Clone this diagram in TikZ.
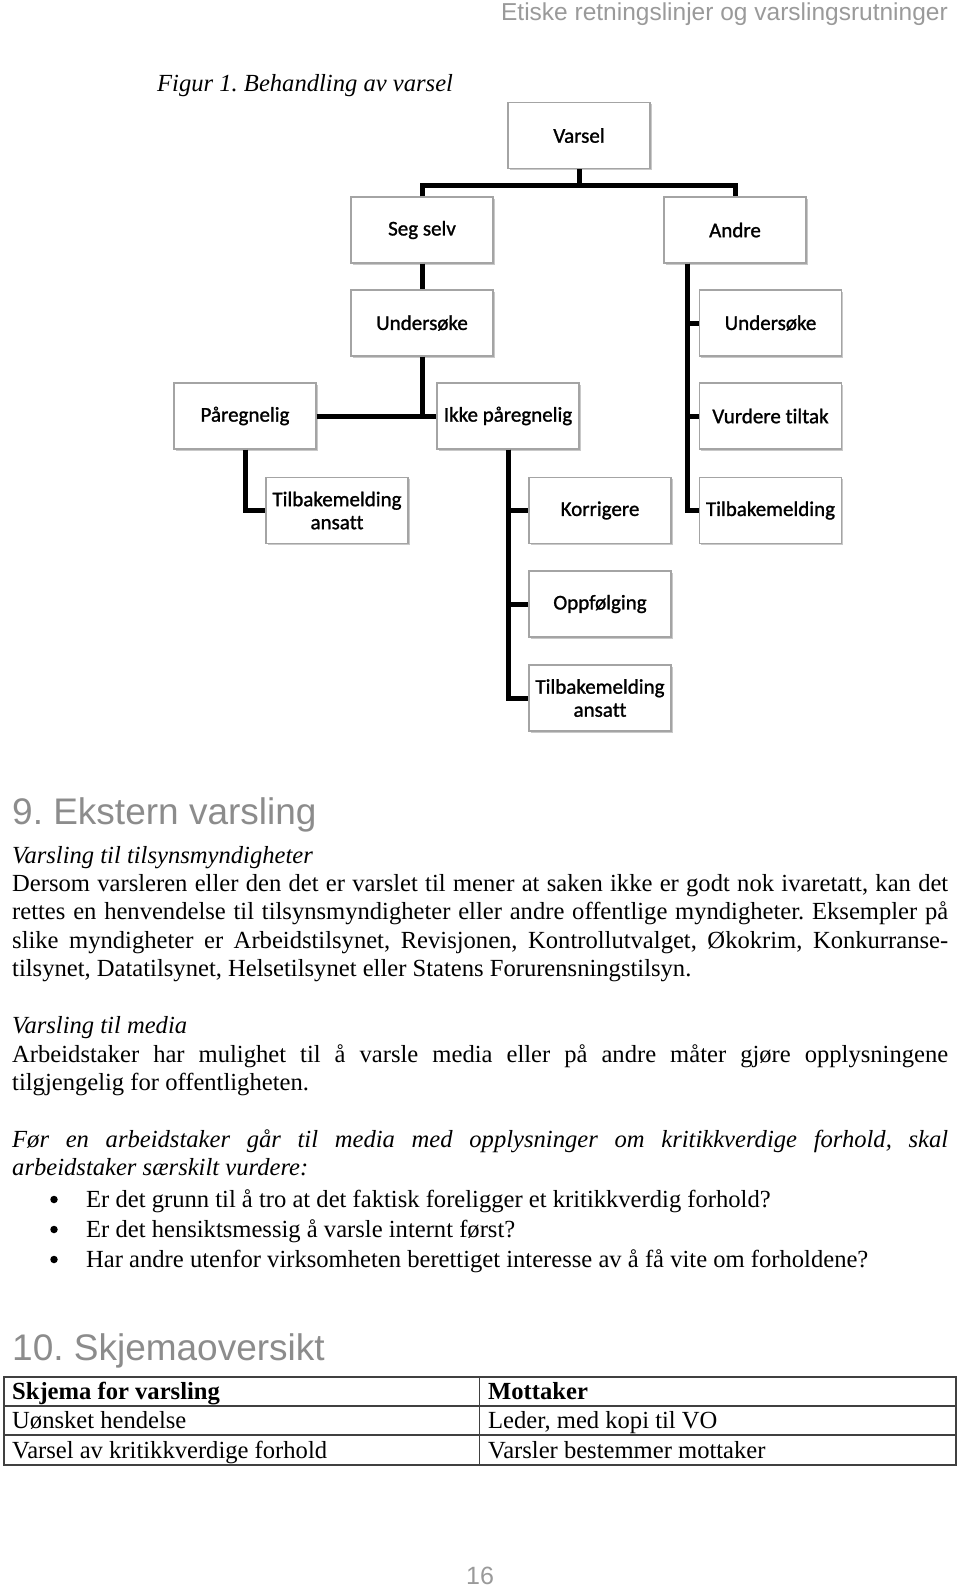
\documentclass[tikz,border=0pt]{standalone}
\usepackage{fontspec}
\setmainfont{Liberation Serif}
\newfontfamily\arialf{Liberation Sans}
\newfontfamily\calib{Carlito}[Ligatures=NoCommon, FakeBold=1.2]
\usetikzlibrary{shadows}
\definecolor{hdgray}{HTML}{9A9A9A}
\definecolor{secgray}{HTML}{8C8C8C}
\definecolor{boxline}{HTML}{A4A4A4}
\definecolor{tabline}{HTML}{404040}
\frenchspacing
\begin{document}
\begin{tikzpicture}[x=1pt,y=-1pt,
  orgbox/.style={draw=boxline, line width=1.2pt, fill=white, minimum width=142pt,
    minimum height=66pt, inner sep=2pt, align=center,
    font=\calib\fontsize{21}{23}\selectfont,
    drop shadow={shadow xshift=1.5pt, shadow yshift=-1.5pt, fill=gray!70, opacity=0.6}},
  conn/.style={line width=5pt, black},
  body/.style={anchor=base west, inner sep=0pt, font=\frenchspacing\fontsize{24.6}{28.3}\selectfont},
  ibody/.style={body, font=\frenchspacing\itshape\fontsize{24.6}{28.3}\selectfont},
  sectitle/.style={anchor=base west, inner sep=0pt, text=secgray, font=\frenchspacing\arialf\fontsize{37}{40}\selectfont},
  bul/.style={circle, fill=black, inner sep=0pt, minimum size=7.5pt},
  tabline/.style={line width=1.6pt, draw=tabline}
]
\fill[white] (0,0) rectangle (960,1587);
\useasboundingbox (0,0) rectangle (960,1587);

% running header
\node[anchor=base east, inner sep=0pt, text=hdgray, font=\arialf\fontsize{24.5}{27}\selectfont] (hdr) at (948,21) {Etiske retningslinjer og varslingsrutninger};
\node[ibody] (fig) at (157,92) {Figur 1. Behandling av varsel};

% org chart nodes
\node[orgbox] (varsel) at (579,135.5) {Varsel};
\node[orgbox] (segselv) at (422,230) {Seg selv};
\node[orgbox] (andre) at (735,230) {Andre};
\node[orgbox] (underL) at (422,323) {Undersøke};
\node[orgbox] (underR) at (770.5,323) {Undersøke};
\node[orgbox] (pareg) at (245,416) {Påregnelig};
\node[orgbox] (ikke) at (508,416) {Ikke påregnelig};
\node[orgbox] (vurd) at (770.5,416) {Vurdere tiltak};
\node[orgbox] (tilbL) at (337,510.5) {Tilbakemelding\\ansatt};
\node[orgbox] (korr) at (600,510.5) {Korrigere};
\node[orgbox] (tilbR) at (770.5,510.5) {Tilbakemelding};
\node[orgbox] (oppf) at (600,604) {Oppfølging};
\node[orgbox] (tilbB) at (600,698) {Tilbakemelding\\ansatt};

% connectors
\coordinate (bus) at (0,185);
\draw[conn] (varsel.south) -- (varsel.south |- bus);
\draw[conn] (segselv.north) -- (segselv.north |- bus) -- (andre.north |- bus) -- (andre.north);
\draw[conn] (segselv.south) -- (underL.north);
\draw[conn] (underL.south) -- (underL.south |- pareg.east);
\draw[conn] (pareg.east) -- (ikke.west);
\draw[conn] (pareg.south) |- (tilbL.west);
\draw[conn] (ikke.south) |- (korr.west);
\draw[conn] (ikke.south) |- (oppf.west);
\draw[conn] (ikke.south) |- (tilbB.west);
\coordinate (atr) at ([xshift=24pt]andre.south west);
\draw[conn] (atr) |- (underR.west);
\draw[conn] (atr) |- (vurd.west);
\draw[conn] (atr) |- (tilbR.west);

% section 9
\node[sectitle] (s9) at (12,824) {9. Ekstern varsling};
\node[ibody] (h1) at (12,863) {Varsling til tilsynsmyndigheter};
\node[body] (p1a) at (12,891) {\makebox[936pt][s]{Dersom varsleren eller den det er varslet til mener at saken ikke er godt nok ivaretatt, kan det}};
\node[body] (p1b) at (12,919.5) {\makebox[936pt][s]{rettes en henvendelse til tilsynsmyndigheter eller andre offentlige myndigheter. Eksempler på}};
\node[body] (p1c) at (12,948) {\makebox[936pt][s]{slike myndigheter er Arbeidstilsynet, Revisjonen, Kontrollutvalget, Økokrim, Konkurranse-}};
\node[body] (p1d) at (12,976) {tilsynet, Datatilsynet, Helsetilsynet eller Statens Forurensningstilsyn.};

\node[ibody] (h2) at (12,1033) {Varsling til media};
\node[body] (p2a) at (12,1062) {\makebox[936pt][s]{Arbeidstaker har mulighet til å varsle media eller på andre måter gjøre opplysningene}};
\node[body] (p2b) at (12,1090) {tilgjengelig for offentligheten.};

\node[ibody] (p3a) at (12,1147) {\makebox[936pt][s]{Før en arbeidstaker går til media med opplysninger om kritikkverdige forhold, skal}};
\node[ibody] (p3b) at (12,1175) {arbeidstaker særskilt vurdere:};

\node[bul] (b1) at (54,1199.5) {};
\node[body] (t1) at (86,1207) {Er det grunn til å tro at det faktisk foreligger et kritikkverdig forhold?};
\node[bul] (b2) at (54,1229.5) {};
\node[body] (t2) at (86,1237) {Er det hensiktsmessig å varsle internt først?};
\node[bul] (b3) at (54,1259.5) {};
\node[body] (t3) at (86,1267) {Har andre utenfor virksomheten berettiget interesse av å få vite om forholdene?};

% section 10
\node[sectitle] (s10) at (12,1360) {10. Skjemaoversikt};
\draw[tabline] (4,1377) rectangle (956,1465);
\draw[tabline] (4,1406) -- (956,1406);
\draw[tabline] (4,1435) -- (956,1435);
\draw[tabline] (479.5,1377) -- (479.5,1465);
\node[body, font=\bfseries\fontsize{24.6}{28.3}\selectfont] (c11) at (12,1399) {Skjema for varsling};
\node[body, font=\bfseries\fontsize{24.6}{28.3}\selectfont] (c12) at (488,1399) {Mottaker};
\node[body] (c21) at (12,1428) {Uønsket hendelse};
\node[body] (c22) at (488,1428) {Leder, med kopi til VO};
\node[body] (c31) at (12,1458) {Varsel av kritikkverdige forhold};
\node[body] (c32) at (488,1458) {Varsler bestemmer mottaker};

\node[anchor=base, inner sep=0pt, text=hdgray, font=\arialf\fontsize{25}{27}\selectfont] (pg) at (480,1584) {16};
\end{tikzpicture}
\end{document}
